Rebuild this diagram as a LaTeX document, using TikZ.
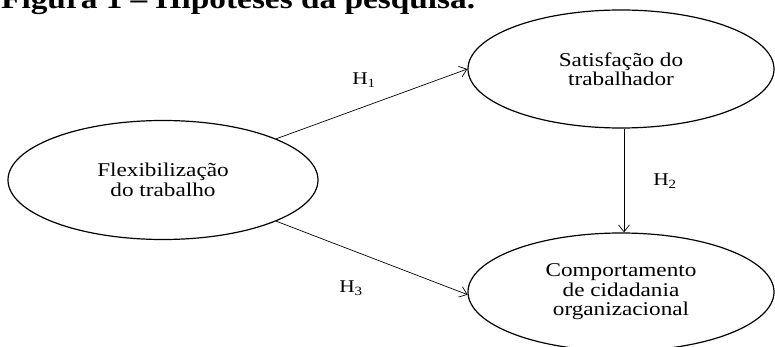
\documentclass[tikz,border=0pt]{standalone}
\usepackage{fontspec}
\setmainfont{Liberation Serif}[FakeStretch=1.19]
\usetikzlibrary{shapes.geometric,arrows.meta}
\tikzset{
  construct/.style={ellipse, draw, line width=1.2pt, minimum width=306pt, minimum height=118pt, inner sep=0pt, align=center, font=\fontsize{19.5}{19.5}\selectfont},
  link/.style={line width=0.7pt, -{Straight Barb[length=7pt,width=11pt,line width=0.7pt]}},
  hlabel/.style={font=\fontsize{18}{18}\selectfont, inner sep=0pt}
}
\begin{document}
\begin{tikzpicture}[x=1pt,y=-1pt]
\useasboundingbox (0,0) rectangle (775,347);
\node[anchor=base west, inner sep=0pt, font=\bfseries\fontsize{28}{28}\selectfont] (title) at (1,9) {Figura 1 – Hipóteses da pesquisa.};
\node[construct, minimum width=310pt, minimum height=119pt] (L) at (163,180) {Flexibilização\\do trabalho};
\node[construct] (T) at (621,69) {Satisfação do\\trabalhador};
\node[construct] (B) at (621,292) {Comportamento\\de cidadania\\organizacional};
\draw[link] (L.20.6) -- (T.west);
\draw[link] (L.-20.7) -- (B.181);
\draw[link] ([xshift=3pt]T.south) -- ([xshift=3pt]B.north);
\node[hlabel] (h1) at (364,80) {H\textsubscript{1}};
\node[hlabel] (h2) at (665,181) {H\textsubscript{2}};
\node[hlabel] (h3) at (351,288) {H\textsubscript{3}};
\end{tikzpicture}
\end{document}
